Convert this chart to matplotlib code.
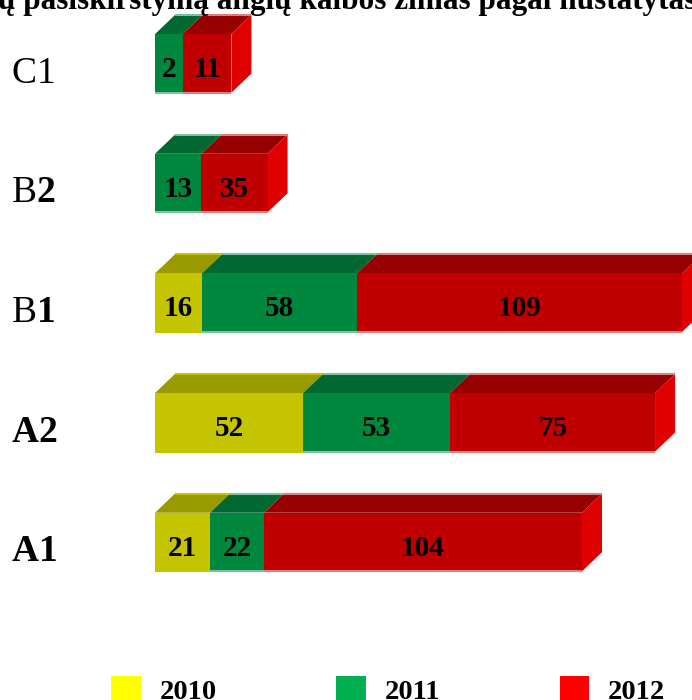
import matplotlib.pyplot as plt
from matplotlib.patches import Polygon, Patch

plt.rcParams['font.family'] = ['Liberation Serif', 'DejaVu Serif']

levels = ['A1', 'A2', 'B1', 'B2', 'C1']
# the level labels mix weights: letter part and digit part
letter_weight = ['bold', 'bold', 'normal', 'normal', 'normal']
digit_weight = ['bold', 'bold', 'bold', 'bold', 'normal']
years = ['2010', '2011', '2012']

# numbers printed on the bars
counts_2010 = [21, 52, 16, 0, 0]
counts_2011 = [22, 53, 58, 13, 2]
counts_2012 = [104, 75, 109, 35, 11]

# bar lengths as drawn (the picture does not scale them by the printed numbers)
length_2010 = [19.8, 53.3, 16.9, 0, 0]
length_2011 = [19.4, 52.9, 55.8, 16.7, 9.9]
length_2012 = [114.5, 73.8, 117.0, 23.8, 17.6]

# title is cut off by the top edge in the original
title = 'ų pasiskirstymą anglų kalbos žinias pagal nustatytas'

front = ['#c4c400', '#00873e', '#c00000']
top = ['#999900', '#006830', '#960000']
rim = ['#c4c400', '#80c0a0', '#d88080']
side = '#e00000'
legend_colors = ['#ffff00', '#00b050', '#ff0000']

counts = [counts_2010, counts_2011, counts_2012]
lengths = [length_2010, length_2011, length_2012]

fig = plt.figure(figsize=(6.92, 7.0), dpi=100)
ax = fig.add_axes([0, 0, 1, 1])
ax.set_xlim(-55.8, 193.3)
ax.set_ylim(-1.32, 4.53)
ax.axis('off')

h = 0.49
dx, dy = 7.2, 0.16

for i, lev in enumerate(levels):
    y0, y1 = i - h / 2, i + h / 2
    last = max(k for k in range(3) if lengths[k][i] > 0)
    left = 0
    for k in range(3):
        w = lengths[k][i]
        if w == 0:
            continue
        ax.add_patch(Polygon([(left, y1), (left + w, y1),
                              (left + w + dx, y1 + dy), (left + dx, y1 + dy)],
                             closed=True, fc=top[k], ec='none'))
        ax.barh(i, w, left=left, height=h, color=front[k], linewidth=0)
        ax.plot([left, left + w], [y0, y0], color=rim[k], lw=1.5,
                solid_capstyle='butt')
        ax.plot([left + dx, left + w + dx], [y1 + dy, y1 + dy], color=rim[k],
                lw=1.5, solid_capstyle='butt')
        if k == last:
            ax.add_patch(Polygon([(left + w, y0), (left + w + dx, y0 + dy),
                                  (left + w + dx, y1 + dy), (left + w, y1)],
                                 closed=True, fc=side, ec='none'))
        ax.text(left + w / 2, i - 0.115, str(counts[k][i]), ha='center',
                va='baseline', fontsize=21, fontweight='bold')
        left += w

    t = ax.text(0.017, i - 0.16, lev[0], transform=ax.get_yaxis_transform(),
                ha='left', va='baseline', fontsize=27,
                fontweight=letter_weight[i])
    ax.annotate(lev[1:], xy=(1, 0), xycoords=t, ha='left', va='bottom',
                fontsize=27, fontweight=digit_weight[i])

fig.text(-0.003, 1 - 9 / 700, title, ha='left', va='baseline',
         fontsize=22.5, fontweight='bold')

handles = [Patch(facecolor=c, edgecolor='none') for c in legend_colors]
fig.legend(handles, years, loc='upper left',
           bbox_to_anchor=(111 / 692, 1 - 676 / 700), ncol=3, frameon=False,
           prop={'weight': 'bold', 'size': 20.5}, handlelength=1.05,
           handleheight=1.05, handletextpad=0.65, columnspacing=4.2,
           borderpad=0, borderaxespad=0)

fig.savefig('out.png', dpi=100)
